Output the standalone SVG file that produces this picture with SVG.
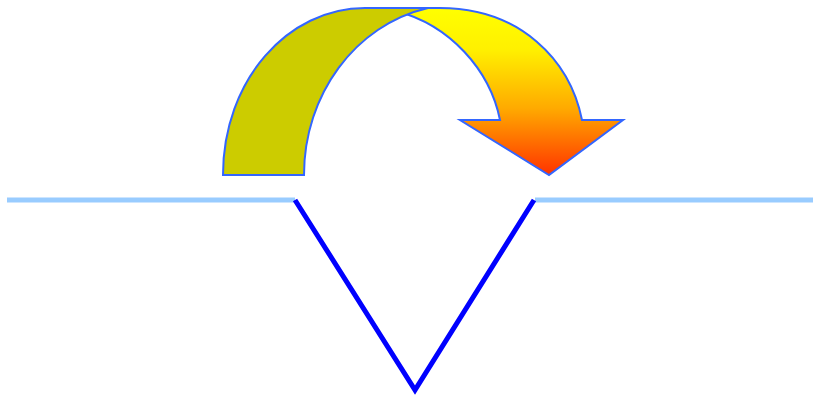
<svg xmlns="http://www.w3.org/2000/svg" width="813" height="396" viewBox="0 0 813 396">
<style>
.ol{stroke:#3366FF;stroke-width:2;stroke-linejoin:miter}
.ground{stroke:#99CCFF;stroke-width:5;fill:none}
.vee{stroke:#0000FF;stroke-width:5;fill:none;stroke-linejoin:miter}
</style>
<defs>
<linearGradient id="g" gradientUnits="userSpaceOnUse" x1="0" y1="8" x2="0" y2="175">
<stop offset="0" stop-color="#FFFF00"/>
<stop offset="0.25" stop-color="#FFF000"/>
<stop offset="0.6" stop-color="#FFAA00"/>
<stop offset="1" stop-color="#FF3300"/>
</linearGradient>
</defs>
<g id="arrow">
<path id="arrow-front" class="ol" fill="url(#g)" d="M396,11 C450,25 490,70 500,120 L460,120 L549,175 L623,120 L582,120 C570,60 520,8 440,8 L385,8 Z"/>
<path id="arrow-back" class="ol" fill="#CCCC00" d="M223,175 L304,175 C304,95 355,25 428,8 L365,8 C288,8 223,80 223,175 Z"/>
</g>
<g id="connectors">
<line class="ground" x1="7" y1="200" x2="295" y2="200"/>
<line class="ground" x1="535" y1="200" x2="813" y2="200"/>
<polyline class="vee" points="295,200 415,390 534,200"/>
</g>
</svg>
